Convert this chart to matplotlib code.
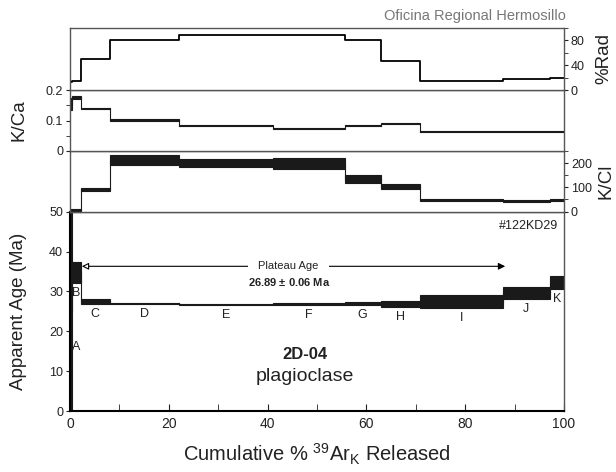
import matplotlib
matplotlib.use("Agg")
import matplotlib.pyplot as plt
from matplotlib.patches import Rectangle
from matplotlib.ticker import MultipleLocator, NullLocator

plt.rcParams['font.family'] = ['Liberation Sans', 'DejaVu Sans']
plt.rcParams['mathtext.default'] = 'regular'
plt.rcParams['text.color'] = '#222222'
plt.rcParams['xtick.color'] = '#222222'
plt.rcParams['ytick.color'] = '#222222'

# step data (cumulative % 39ArK at the step edges)
steps = ['A', 'B', 'C', 'D', 'E', 'F', 'G', 'H', 'I', 'J', 'K']
cum = [0, 0.4, 2.15, 8.1, 22.1, 41.2, 55.6, 62.9, 70.9, 87.6, 97.2, 100]
age = [25.0, 34.67, 27.59, 27.0, 26.8, 26.85, 26.95, 26.8, 27.4, 29.5, 32.2]
age_err = [30.0, 2.6, 0.63, 0.2, 0.15, 0.2, 0.35, 0.7, 1.6, 1.5, 1.65]
kcl = [5, 6, 91, 212, 201, 199, 134, 102, 47, 44, 48]
kcl_err = [5, 3, 7, 20, 17, 23, 15, 10, 4, 3, 4]
kca = [0.153, 0.176, 0.140, 0.103, 0.083, 0.075, 0.083, 0.090, 0.063, 0.063, 0.063]
kca_err = [0.02, 0.004, 0.002, 0.003, 0.002, 0.002, 0.002, 0.002, 0.002, 0.002, 0.002]
rad = [13, 14.5, 50.4, 80, 88.2, 88.2, 80, 46, 15.3, 17, 19.7]

plateau_from, plateau_to = 2.4, 88.1
plateau_y = 36.3
plateau_txt = '26.89 $\\pm$ 0.06 Ma'

BOX = '#1a1a1a'
FRAME = '#555555'

fig = plt.figure(figsize=(6.16, 4.72), dpi=100)
L, W = 0.1136, 0.8019
ax_age = fig.add_axes([L, 0.1282, W, 0.4237])
ax_kcl = fig.add_axes([L, 0.5519, W, 0.1282])
ax_kca = fig.add_axes([L, 0.6801, W, 0.1292])
ax_rad = fig.add_axes([L, 0.8093, W, 0.1314])


def draw_steps(ax, vals, errs):
    for i in range(len(vals)):
        x0, x1 = cum[i], cum[i + 1]
        ax.add_patch(Rectangle((x0, vals[i] - errs[i]), x1 - x0, 2 * errs[i],
                               fc=BOX, ec=BOX, lw=0.8, clip_on=True))
        if i > 0:
            ax.plot([x0, x0], [vals[i - 1], vals[i]], color=BOX, lw=0.8)


for ax in [ax_age, ax_kcl, ax_kca, ax_rad]:
    ax.set_xlim(0, 100)
    for s in ax.spines.values():
        s.set_color(FRAME)
        s.set_linewidth(1.0)
    ax.tick_params(labelsize=9)

# %Rad panel
ax_rad.step(cum, rad + [rad[-1]], where='post', color='black', lw=1.3)
ax_rad.set_ylim(0, 100)
ax_rad.xaxis.set_major_locator(NullLocator())
ax_rad.yaxis.tick_right()
ax_rad.yaxis.set_major_locator(MultipleLocator(40))
ax_rad.yaxis.set_minor_locator(MultipleLocator(20))
ax_rad.tick_params(axis='y', which='both', direction='out', length=3, pad=2)

# K/Ca panel
draw_steps(ax_kca, kca, kca_err)
ax_kca.set_ylim(0, 0.2)
ax_kca.xaxis.set_major_locator(NullLocator())
ax_kca.yaxis.set_minor_locator(MultipleLocator(0.05))
ax_kca.set_yticks([0, 0.1, 0.2])
ax_kca.set_yticklabels(['0', '0.1', '0.2'])
ax_kca.tick_params(axis='y', which='both', direction='out', length=3, pad=2)

# K/Cl panel
draw_steps(ax_kcl, kcl, kcl_err)
ax_kcl.set_ylim(0, 250)
ax_kcl.xaxis.set_major_locator(NullLocator())
ax_kcl.yaxis.tick_right()
ax_kcl.yaxis.set_major_locator(MultipleLocator(100))
ax_kcl.yaxis.set_minor_locator(MultipleLocator(50))
ax_kcl.tick_params(axis='y', which='both', direction='out', length=3, pad=2)

# age spectrum
draw_steps(ax_age, age, age_err)
ax_age.set_ylim(0, 50)
ax_age.yaxis.set_major_locator(MultipleLocator(10))
ax_age.xaxis.set_major_locator(MultipleLocator(20))
ax_age.xaxis.set_minor_locator(MultipleLocator(10))
ax_age.tick_params(axis='x', which='both', direction='in', length=5, pad=4, labelsize=10)
ax_age.tick_params(axis='y', direction='out', length=3, pad=2)
ax_age.spines['bottom'].set_color('black')
ax_age.spines['bottom'].set_linewidth(1.5)
ax_age.spines['left'].set_color('black')
ax_age.spines['left'].set_linewidth(1.5)
ax_age.text(0.5, -0.2525, 'Cumulative % $^{39}$Ar$_{K}$ Released', fontsize=14.5,
            ha='center', va='baseline', transform=ax_age.transAxes)

# axis titles, centred on each panel
fig.text(19 / 616, 1 - 311 / 472, 'Apparent Age (Ma)', fontsize=13.5, rotation=90,
         ha='center', va='center')
fig.text(19 / 616, 1 - 120 / 472, 'K/Ca', fontsize=13.5, rotation=90,
         ha='center', va='center')
fig.text(604 / 616, 1 - 59 / 472, '%Rad', fontsize=13.5, rotation=90,
         ha='center', va='center')
fig.text(606 / 616, 1 - 181 / 472, 'K/Cl', fontsize=13.5, rotation=90,
         ha='center', va='center')

for i, s in enumerate(steps):
    xc = 1.2 if i == 0 else (cum[i] + cum[i + 1]) / 2
    yl = 16 if i == 0 else age[i] - age_err[i] - 2.5
    ax_age.text(xc, yl, s, fontsize=9, ha='center', va='center')

# plateau arrow
xm = (plateau_from + plateau_to) / 2
ax_age.annotate('', xy=(plateau_from, plateau_y), xytext=(xm, plateau_y),
                arrowprops=dict(arrowstyle='-|>', color='black', lw=0.8,
                                fc='white', mutation_scale=10, shrinkA=0, shrinkB=0))
ax_age.annotate('', xy=(plateau_to, plateau_y), xytext=(xm, plateau_y),
                arrowprops=dict(arrowstyle='-|>', color='black', lw=0.8,
                                mutation_scale=10, shrinkA=0, shrinkB=0))
ax_age.text(44.2, plateau_y, 'Plateau Age', fontsize=8, ha='center', va='center',
            bbox=dict(boxstyle='square,pad=0.9', fc='white', ec='none'))
ax_age.text(44.3, 32.4, plateau_txt, fontsize=8, fontweight='bold', ha='center', va='center')

ax_age.text(98.8, 46.4, '#122KD29', fontsize=9, ha='right', va='center')
ax_age.text(47.6, 14.2, '2D-04', fontsize=12, fontweight='bold', ha='center', va='center')
ax_age.text(47.6, 8.7, 'plagioclase', fontsize=14, ha='center', va='center')

fig.text(566 / 616, 1 - 20 / 472, 'Oficina Regional Hermosillo', fontsize=10.5,
         color='#777777', ha='right', va='baseline')

fig.savefig('out.png', dpi=100)
